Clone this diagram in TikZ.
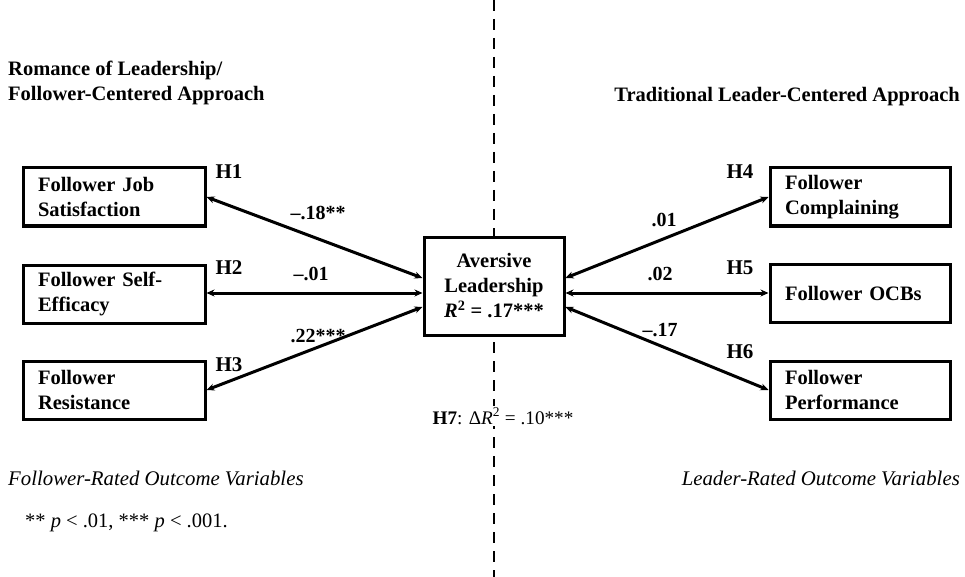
\documentclass[tikz,border=0pt]{standalone}
\usepackage{fontspec}
\setmainfont{Liberation Serif}
\usetikzlibrary{arrows.meta}
\begin{document}
\begin{tikzpicture}[x=1pt,y=-1pt,
  box/.style={draw,fill=white,line width=3pt,minimum height=58pt,inner xsep=15pt,text width=152pt,align=left,font=\fontsize{20.5}{25}\selectfont\bfseries},
  cbox/.style={draw,fill=white,line width=3pt,minimum width=140pt,minimum height=98pt,align=center,font=\fontsize{20.5}{25}\selectfont\bfseries},
  conn/.style={line width=3pt,{Stealth[length=8pt,width=7pt]}-{Stealth[length=8pt,width=7pt]}},
  lab/.style={font=\fontsize{20}{22}\selectfont\bfseries,inner sep=0pt},
  hyp/.style={font=\fontsize{21}{22}\selectfont\bfseries,inner sep=0pt},
  head/.style={font=\fontsize{20.5}{25}\selectfont\bfseries,inner sep=0pt,align=left},
  note/.style={font=\fontsize{20.8}{22}\selectfont\itshape,inner sep=0pt}]
\useasboundingbox (0,0) rectangle (965,577);
\fill[white] (0,0) rectangle (965,577);
% divider
\coordinate (dtop) at (494,0);
\coordinate (dbot) at (494,577);
\draw[line width=2pt,dash pattern=on 11pt off 8pt] (dtop) -- (dbot);
% headers
\node[head,anchor=west] (hl) at (8,83) {Romance of Leadership/\\Follower-Centered Approach};
\node[head,anchor=east] (hr) at (960,97) {Traditional Leader-Centered Approach};
% left boxes
\node[box] (b1) at (114,197) {Follower Job\\Satisfaction};
\node[box] (b2) at (114,294) {Follower Self-\\Efficacy};
\node[box] (b3) at (114,390) {Follower\\Resistance};
% right boxes
\node[box,text width=150pt] (b4) at (860,197) {Follower\\Complaining};
\node[box,text width=150pt] (b5) at (860,293) {Follower OCBs};
\node[box,text width=150pt] (b6) at (860,390) {Follower\\Performance};
% center
\node[cbox] (c) at (494,286) {Aversive\\Leadership\\\textit{R}\textsuperscript{2} = .17***};
% connectors
\draw[conn] (b1.east) -- (c.west |- 0,278);
\draw[conn] (b2.east |- 0,293) -- (c.west |- 0,293);
\draw[conn] (b3.east) -- (c.west |- 0,307);
\draw[conn] (c.east |- 0,278) -- (b4.west);
\draw[conn] (c.east |- 0,293) -- (b5.west);
\draw[conn] (c.east |- 0,307) -- (b6.west);
% hypothesis labels
\node[hyp] (h1) at (229,172) {H1};
\node[hyp] (h2) at (229,268) {H2};
\node[hyp] (h3) at (229,365) {H3};
\node[hyp] (h4) at (740,172) {H4};
\node[hyp] (h5) at (740,268) {H5};
\node[hyp] (h6) at (740,352) {H6};
% coefficients
\node[lab] (e1) at (318,213) {\textendash.18**};
\node[lab] (e2) at (311,274) {\textendash.01};
\node[lab] (e3) at (318,336) {.22***};
\node[lab] (e4) at (664,220) {.01};
\node[lab] (e5) at (660,274) {.02};
\node[lab] (e6) at (660,330) {\textendash.17};
% H7
\node[fill=white,inner xsep=0pt,inner ysep=2pt,font=\fontsize{19.2}{22}\selectfont] (h7) at (503,416) {\textbf{H7}: Δ\textit{R}\textsuperscript{2} = .10***};
% notes
\node[note,anchor=west] (nl) at (8,478) {Follower-Rated Outcome Variables};
\node[note,anchor=east] (nr) at (960,478) {Leader-Rated Outcome Variables};
\node[inner sep=0pt,anchor=west,font=\fontsize{20.5}{22}\selectfont] (fn) at (25,523) {** \textit{p} < .01, *** \textit{p} < .001.};
\end{tikzpicture}
\end{document}
